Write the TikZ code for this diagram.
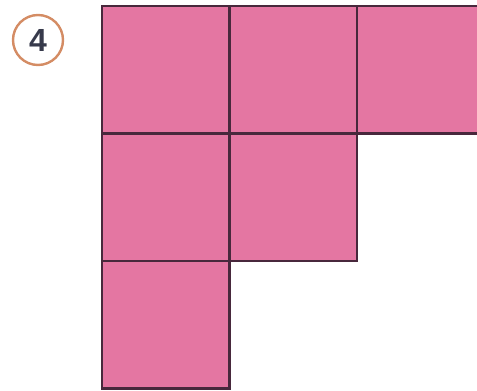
\documentclass[tikz,border=0pt]{standalone}
\usepackage{fontspec}
\setmainfont{Liberation Sans}
\definecolor{cellpink}{RGB}{228,118,162}
\definecolor{celledge}{RGB}{72,40,60}
\definecolor{ringorange}{RGB}{212,140,100}
\definecolor{digitgray}{RGB}{55,58,75}
\begin{document}
\begin{tikzpicture}[x=1pt,y=-1pt,
  cell/.style={draw=celledge, fill=cellpink, line width=2.6pt, minimum width=127.5pt, minimum height=127.5pt, inner sep=0pt, outer sep=0pt},
  badge/.style={circle, draw=ringorange, line width=2.4pt, minimum size=50pt, inner sep=0pt, text=digitgray, font=\fontsize{32}{32}\selectfont\bfseries}]
\useasboundingbox (0,0) rectangle (477,391);
\clip (0,0) rectangle (477,391);
\node[badge] (num) at (38,40) {4};
\node[cell] (r1c1) at (165.75,69.75) {};
\node[cell] (r1c2) at (293.25,69.75) {};
\node[cell] (r1c3) at (420.75,69.75) {};
\node[cell] (r2c1) at (165.75,197.25) {};
\node[cell] (r2c2) at (293.25,197.25) {};
\node[cell] (r3c1) at (165.75,324.75) {};
\end{tikzpicture}
\end{document}
